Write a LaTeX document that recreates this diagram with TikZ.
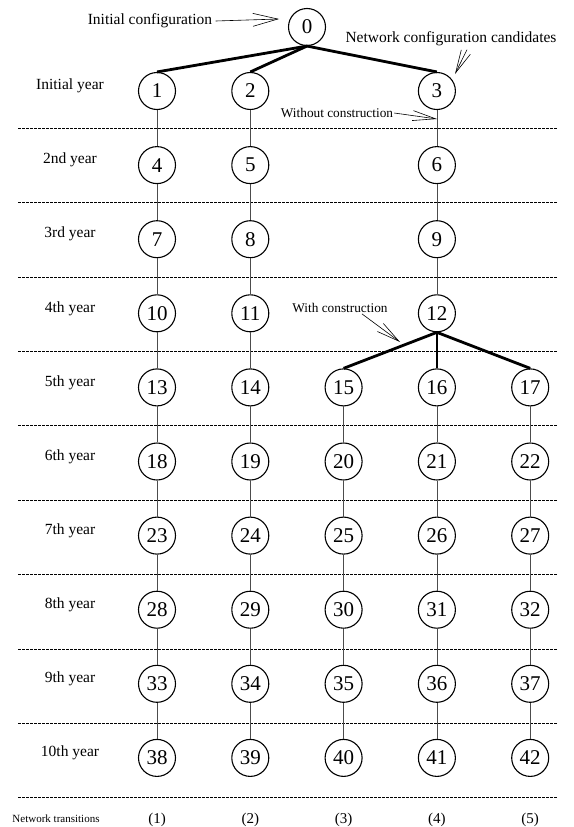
\documentclass[tikz,border=0pt]{standalone}
\usepackage{fontspec}
\setmainfont{Liberation Serif}
\usepackage{tikz}
\usetikzlibrary{arrows.meta}

\tikzset{
  stage/.style={circle, draw, line width=1.1pt, minimum size=37pt, inner sep=0pt,
    font=\fontsize{21}{24}\selectfont},
  yearlab/.style={font=\fontsize{15.5}{18}\selectfont},
  calllab/.style={font=\fontsize{13.3}{15}\selectfont, inner sep=1pt},
  keep/.style={line width=0.8pt, black!70},
  build/.style={line width=2.8pt},
  callout/.style={line width=0.6pt, -{Straight Barb[length=23pt,width=10pt]}},
  rowsep/.style={line width=0.6pt, dash pattern=on 2.5pt off 1.5pt}
}

\begin{document}
\begin{tikzpicture}[x=1pt,y=-1pt]
\useasboundingbox (0,0) rectangle (573,827);
% dashed separators between the years
\foreach \r in {1,...,10}
  \draw[rowsep] (18,{128+74.4*(\r-1)}) -- (557,{128+74.4*(\r-1)});
% year labels
\foreach \lab [count=\r] in {Initial year,2nd year,3rd year,4th year,5th year,
    6th year,7th year,8th year,9th year,10th year}
  \node[yearlab] (yr\r) at (70,{86+74.1*(\r-1)}) {\lab};
% configuration nodes
\node[stage] (n0) at (307,27) {0};
\foreach \r in {1,...,4}
  \foreach \c/\i in {1/1,2/2,4/3} {
    \pgfmathtruncatemacro\n{3*(\r-1)+\i}
    \node[stage] (n\n) at ({157+93.3*(\c-1)},{91+74.1*(\r-1)}) {\n};
  }
\foreach \r in {5,...,10}
  \foreach \c in {1,...,5} {
    \pgfmathtruncatemacro\n{13+5*(\r-5)+\c-1}
    \node[stage] (n\n) at ({157+93.3*(\c-1)},{91+74.1*(\r-1)}) {\n};
  }
% transitions without construction
\foreach \k in {1,...,9} {
  \pgfmathtruncatemacro\m{\k+3}
  \draw[keep] (n\k) -- (n\m);
}
\draw[keep] (n10) -- (n13);
\draw[keep] (n11) -- (n14);
\foreach \k in {13,...,37} {
  \pgfmathtruncatemacro\m{\k+5}
  \draw[keep] (n\k) -- (n\m);
}
% transitions with construction
\foreach \k in {1,2,3}
  \draw[build] (n0.south) -- (n\k.north);
\foreach \k in {15,16,17}
  \draw[build] (n12.south) -- (n\k.north);
% callouts
\node[yearlab] (initlab) at (150,21) {Initial configuration};
\coordinate (inittip) at (279,19);
\draw[callout,-{Straight Barb[length=25pt,width=13pt]}] (initlab.east) -- (inittip);
\node[yearlab] (candlab) at (451,39) {Network configuration candidates};
\coordinate (candtip) at (455,74);
\draw[callout] ([xshift=16pt]candlab.south) -- (candtip);
\node[calllab] (wolab) at (337,113) {Without construction};
\coordinate (wotip) at (437,119);
\draw[callout] (wolab.east) -- (wotip);
\node[calllab] (wlab) at (340,308) {With construction};
\coordinate (wtip) at (400,342);
\draw[callout] ([xshift=22pt]wlab.south) -- (wtip);
% bottom labels
\node[font=\fontsize{11}{13}\selectfont] (translab) at (56,819) {Network transitions};
\foreach \c in {1,...,5}
  \node[font=\fontsize{15}{18}\selectfont] (tr\c) at ({157+93.3*(\c-1)},820) {(\c)};
\end{tikzpicture}
\end{document}
